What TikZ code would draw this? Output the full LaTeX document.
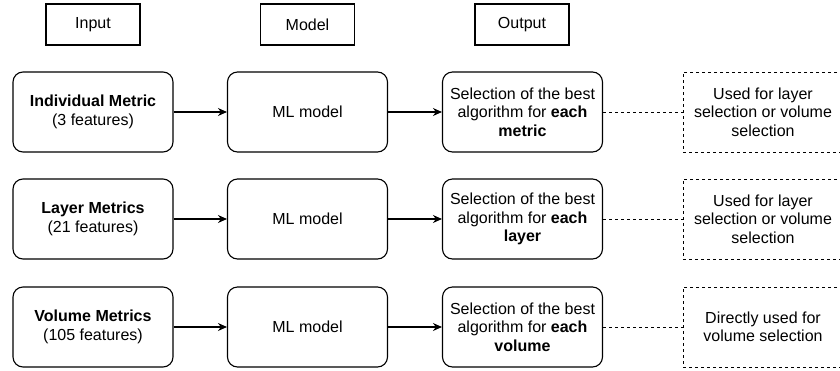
\documentclass[tikz,border=0pt]{standalone}
\usepackage{fontspec}
\setmainfont{Liberation Sans}
\usetikzlibrary{arrows.meta}
\begin{document}
\begin{tikzpicture}[x=1pt,y=-1pt,
  every node/.style={font=\fontsize{16}{18.3}\selectfont, align=center, inner sep=0pt},
  header/.style={draw, line width=1.1pt, minimum width=94pt, minimum height=41pt},
  rbox/.style={draw, line width=1.1pt, rounded corners=10pt, minimum width=160pt, minimum height=80pt},
  dbox/.style={draw, line width=1pt, dash pattern=on 3pt off 3pt, minimum width=160pt, minimum height=80pt},
  arr/.style={line width=1.1pt, -{Stealth[length=9pt,width=8pt]}},
  dline/.style={line width=1pt, dash pattern=on 3pt off 3pt}]
\useasboundingbox (0,0) rectangle (840,370);
\fill[white] (0,0) rectangle (840,370);
\node[header] (hin) at (93,24.5) {Input};
\node[header] (hmod) at (307.5,24.5) {Model};
\node[header] (hout) at (522,24.5) {Output};
% row 1
\node[rbox] (in1) at (93,112) {\textbf{Individual Metric}\\(3 features)};
\node[rbox] (m1) at (307.5,112) {ML model};
\node[rbox] (o1) at (522.5,112) {Selection of the best\\algorithm for \textbf{each}\\\textbf{metric}};
\node[dbox] (u1) at (763,112) {Used for layer\\selection or volume\\selection};
% row 2
\node[rbox] (in2) at (93,219) {\textbf{Layer Metrics}\\(21 features)};
\node[rbox] (m2) at (307.5,219) {ML model};
\node[rbox] (o2) at (522.5,219) {Selection of the best\\algorithm for \textbf{each}\\\textbf{layer}};
\node[dbox] (u2) at (763,219) {Used for layer\\selection or volume\\selection};
% row 3
\node[rbox] (in3) at (93,327) {\textbf{Volume Metrics}\\(105 features)};
\node[rbox] (m3) at (307.5,327) {ML model};
\node[rbox] (o3) at (522.5,327) {Selection of the best\\algorithm for \textbf{each}\\\textbf{volume}};
\node[dbox] (u3) at (763,327) {Directly used for\\volume selection};
\foreach \i in {1,2,3}{
  \draw[arr] (in\i) -- (m\i);
  \draw[arr] (m\i) -- (o\i);
  \draw[dline] (o\i) -- (u\i);
}
\end{tikzpicture}
\end{document}
